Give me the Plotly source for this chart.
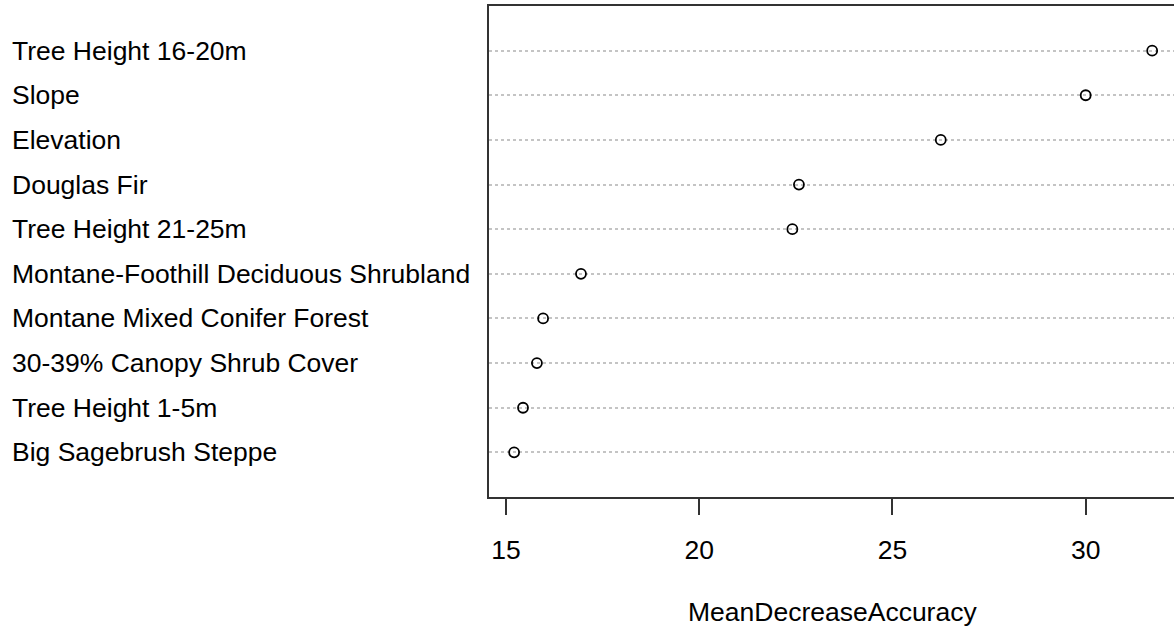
import plotly.graph_objects as go

# Variable importance (random forest), listed top to bottom
variables = [
    "Tree Height 16-20m",
    "Slope",
    "Elevation",
    "Douglas Fir",
    "Tree Height 21-25m",
    "Montane-Foothill Deciduous Shrubland",
    "Montane Mixed Conifer Forest",
    "30-39% Canopy Shrub Cover",
    "Tree Height 1-5m",
    "Big Sagebrush Steppe",
]
mean_decrease_accuracy = [31.72, 30.0, 26.25, 22.58, 22.41, 16.94, 15.96, 15.80, 15.44, 15.21]
x_ticks = [15, 20, 25, 30]

FONT = "Liberation Sans, Arial, sans-serif"
FS = 26.5
W, H = 1174, 632
ML, MT, MB = 489, 6, 135
plot_w = W - ML
plot_h = H - MT - MB

n = len(variables)
rows = list(range(n, 0, -1))  # first variable sits on the top row

fig = go.Figure()
fig.add_trace(go.Scatter(
    x=mean_decrease_accuracy,
    y=rows,
    mode="markers",
    marker=dict(symbol="circle-open", size=10, color="black",
                line=dict(width=1.8, color="black")),
    hoverinfo="x+text",
    text=variables,
    showlegend=False,
))

# Row labels, left aligned in the margin
annotations = []
for name, r in zip(variables, rows):
    annotations.append(dict(
        text=name, xref="paper", yref="y", x=-(ML - 10) / plot_w, y=r,
        xanchor="left", yanchor="middle", showarrow=False,
        font=dict(family=FONT, size=FS, color="black"),
    ))
# Axis title
annotations.append(dict(
    text="MeanDecreaseAccuracy", xref="paper", yref="paper",
    x=(832 - ML) / plot_w, y=-(612 - (H - MB)) / plot_h,
    xanchor="center", yanchor="middle", showarrow=False,
    font=dict(family=FONT, size=FS, color="black"),
))

fig.update_layout(
    width=W, height=H,
    margin=dict(l=ML, r=0, t=MT, b=MB, pad=0),
    plot_bgcolor="white", paper_bgcolor="white",
    font=dict(family=FONT, size=FS, color="black"),
    annotations=annotations,
    xaxis=dict(
        range=[14.56, 32.285], tickvals=x_ticks, ticktext=[str(t) for t in x_ticks],
        showgrid=False, zeroline=False,
        showline=True, linecolor="#333333", linewidth=2, mirror=True,
        ticks="outside", ticklen=16, tickwidth=2, tickcolor="#333333",
        ticklabelstandoff=12,
        tickfont=dict(family=FONT, size=FS, color="black"),
    ),
    yaxis=dict(
        range=[0, n + 1], tickvals=rows, showticklabels=False,
        showgrid=True, gridcolor="#C4C4C4", gridwidth=1.5, griddash="dot",
        zeroline=False, showline=True, linecolor="#333333", linewidth=2,
        ticks="",
    ),
)

fig.write_html("out.html")
